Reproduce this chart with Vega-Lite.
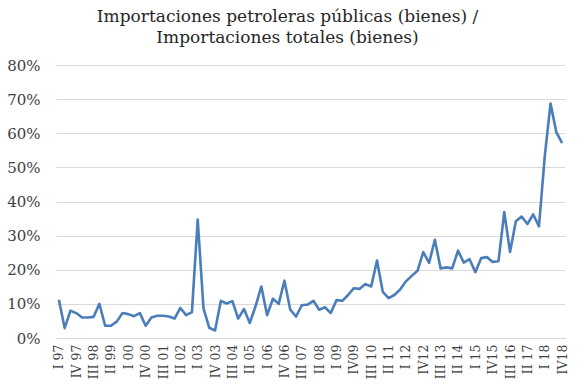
{
  "$schema": "https://vega.github.io/schema/vega-lite/v6.json",
  "width": 509,
  "height": 273,
  "autosize": {"type": "none"},
  "padding": {"left": 56, "top": 65, "right": 13, "bottom": 52},
  "background": "white",
  "title": {
    "text": ["Importaciones petroleras públicas (bienes) /", "Importaciones totales (bienes)"],
    "font": "DejaVu Serif",
    "fontSize": 17,
    "fontWeight": "normal",
    "color": "#262626",
    "lineHeight": 21,
    "anchor": "middle",
    "dx": -23,
    "offset": 11
  },
  "config": {
    "view": {"stroke": null},
    "axis": {"labelFont": "DejaVu Serif", "labelColor": "#404040"}
  },
  "data": {"values": [
    {"q": "I 97", "v": 0.112}, {"q": "II 97", "v": 0.029}, {"q": "III 97", "v": 0.080}, {"q": "IV 97", "v": 0.073},
    {"q": "I 98", "v": 0.060}, {"q": "II 98", "v": 0.060}, {"q": "III 98", "v": 0.062}, {"q": "IV 98", "v": 0.100},
    {"q": "I 99", "v": 0.036}, {"q": "II 99", "v": 0.036}, {"q": "III 99", "v": 0.048}, {"q": "IV 99", "v": 0.073},
    {"q": "I 00", "v": 0.070}, {"q": "II 00", "v": 0.064}, {"q": "III 00", "v": 0.073}, {"q": "IV 00", "v": 0.036},
    {"q": "I 01", "v": 0.060}, {"q": "II 01", "v": 0.065}, {"q": "III 01", "v": 0.065}, {"q": "IV 01", "v": 0.063},
    {"q": "I 02", "v": 0.057}, {"q": "II 02", "v": 0.088}, {"q": "III 02", "v": 0.067}, {"q": "IV 02", "v": 0.076},
    {"q": "I 03", "v": 0.347}, {"q": "II 03", "v": 0.087}, {"q": "III 03", "v": 0.030}, {"q": "IV 03", "v": 0.022},
    {"q": "I 04", "v": 0.109}, {"q": "II 04", "v": 0.101}, {"q": "III 04", "v": 0.108}, {"q": "IV 04", "v": 0.057},
    {"q": "I 05", "v": 0.085}, {"q": "II 05", "v": 0.044}, {"q": "III 05", "v": 0.093}, {"q": "IV 05", "v": 0.151},
    {"q": "I 06", "v": 0.067}, {"q": "II 06", "v": 0.115}, {"q": "III 06", "v": 0.100}, {"q": "IV 06", "v": 0.168},
    {"q": "I 07", "v": 0.083}, {"q": "II 07", "v": 0.063}, {"q": "III 07", "v": 0.096}, {"q": "IV 07", "v": 0.098},
    {"q": "I 08", "v": 0.109}, {"q": "II 08", "v": 0.083}, {"q": "III 08", "v": 0.090}, {"q": "IV 08", "v": 0.073},
    {"q": "I 09", "v": 0.111}, {"q": "II 09", "v": 0.109}, {"q": "III 09", "v": 0.126}, {"q": "IV09", "v": 0.146},
    {"q": "I 10", "v": 0.144}, {"q": "II 10", "v": 0.158}, {"q": "III 10", "v": 0.151}, {"q": "IV10", "v": 0.227},
    {"q": "I 11", "v": 0.135}, {"q": "II 11", "v": 0.117}, {"q": "III 11", "v": 0.126}, {"q": "IV11", "v": 0.142},
    {"q": "I 12", "v": 0.166}, {"q": "II 12", "v": 0.182}, {"q": "III 12", "v": 0.197}, {"q": "IV12", "v": 0.252},
    {"q": "I 13", "v": 0.220}, {"q": "II 13", "v": 0.288}, {"q": "III 13", "v": 0.204}, {"q": "IV13", "v": 0.207},
    {"q": "I 14", "v": 0.204}, {"q": "II 14", "v": 0.256}, {"q": "III 14", "v": 0.221}, {"q": "IV14", "v": 0.231},
    {"q": "I 15", "v": 0.193}, {"q": "II 15", "v": 0.234}, {"q": "III 15", "v": 0.237}, {"q": "IV15", "v": 0.223},
    {"q": "I 16", "v": 0.225}, {"q": "II 16", "v": 0.369}, {"q": "III 16", "v": 0.252}, {"q": "IV16", "v": 0.342},
    {"q": "I 17", "v": 0.356}, {"q": "II 17", "v": 0.334}, {"q": "III 17", "v": 0.362}, {"q": "IV17", "v": 0.327},
    {"q": "I 18", "v": 0.532}, {"q": "II 18", "v": 0.687}, {"q": "III 18", "v": 0.603}, {"q": "IV18", "v": 0.571}
  ]},
  "mark": {"type": "line", "color": "#4a7ebb", "strokeWidth": 2.6, "strokeJoin": "round"},
  "encoding": {
    "x": {
      "field": "q",
      "type": "ordinal",
      "sort": null,
      "scale": {"type": "point", "padding": 0.5},
      "axis": {
        "title": null,
        "values": ["I 97","IV 97","III 98","II 99","I 00","IV 00","III 01","II 02","I 03","IV 03","III 04","II 05","I 06","IV 06","III 07","II 08","I 09","IV09","III 10","II 11","I 12","IV12","III 13","II 14","I 15","IV15","III 16","II 17","I 18","IV18"],
        "labelAngle": -90,
        "labelFontSize": 12.5,
        "labelPadding": 6,
        "ticks": false,
        "domainColor": "#d9d9d9",
        "domainWidth": 1,
        "grid": false
      }
    },
    "y": {
      "field": "v",
      "type": "quantitative",
      "scale": {"domain": [0, 0.8], "nice": false},
      "axis": {
        "title": null,
        "format": ".0%",
        "values": [0, 0.1, 0.2, 0.3, 0.4, 0.5, 0.6, 0.7, 0.8],
        "labelFontSize": 15,
        "labelPadding": 16,
        "ticks": false,
        "domain": false,
        "gridColor": "#d9d9d9",
        "gridWidth": 1
      }
    }
  }
}
